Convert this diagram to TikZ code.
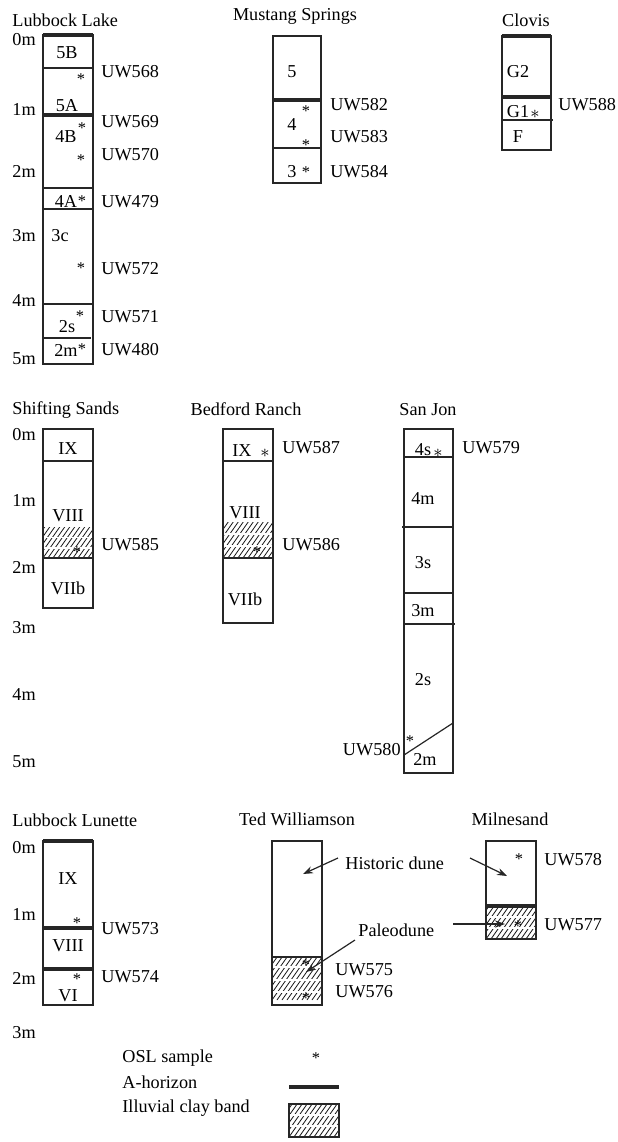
\documentclass[tikz,border=0pt]{standalone}
\usepackage{fontspec}
\setmainfont{Liberation Serif}
\usetikzlibrary{arrows.meta}
\newcommand{\hatchband}[4]{%
  \begin{scope}
    \clip (#1,#2) rectangle (#3,#4);
    \foreach \k in {0,...,24} \draw[hatchl] (#1-45+5*\k,#4) -- ++(42,-60);
  \end{scope}}
\begin{document}
\begin{tikzpicture}[x=0.5pt,y=-0.5pt,
  every node/.style={font=\fontsize{9.1pt}{11pt}\selectfont, inner sep=0pt},
  lbl/.style={anchor=center},
  dep/.style={anchor=west},
  uw/.style={anchor=west},
  ttl/.style={anchor=center},
  ast/.style={anchor=center, yshift=-1.1pt, font=\fontsize{8.2pt}{10pt}\selectfont},
  colbox/.style={draw=black!85, line width=0.6pt},
  lyr/.style={draw=black!85, line width=0.6pt},
  ahor/.style={draw=black!85, line width=1.7pt},
  hatchl/.style={draw=black!90, line width=0.4pt},
  gapl/.style={draw=white, line width=0.9pt},
  arr/.style={-{Stealth[length=5pt,width=3.6pt]}, line width=0.6pt, draw=black!85}]
\useasboundingbox (0,0) rectangle (617,1142);

% ---------------- Lubbock Lake ----------------
\node[dep] (tLL) at (12,20) {Lubbock Lake};
\node[dep] (dLL0) at (12,40) {0m};
\node[dep] (dLL1) at (12,109) {1m};
\node[dep] (dLL2) at (12,171) {2m};
\node[dep] (dLL3) at (12,236) {3m};
\node[dep] (dLL4) at (12,301) {4m};
\node[dep] (dLL5) at (12,359) {5m};
\draw[colbox] (43,35) rectangle (93,364);
\draw[ahor] (43,35) -- (93,35);
\draw[lyr] (43,68) -- (93,68);
\draw[ahor] (43,115) -- (93,115);
\draw[lyr] (43,188) -- (93,188);
\draw[lyr] (43,209) -- (93,209);
\draw[lyr] (43,304) -- (93,304);
\draw[lyr] (43,338) -- (91,338);
\node[lbl] (l5B) at (67,53) {5B};
\node[lbl] (l5A) at (67,106) {5A};
\node[lbl] (l4B) at (66,137) {4B};
\node[lbl] (l4A) at (66,201) {4A};
\node[lbl] (l3c) at (60,236) {3c};
\node[lbl] (l2s) at (67,327) {2s};
\node[lbl] (l2m) at (66,350) {2m};
\node[ast] (aLL1) at (81,77) {*};
\node[ast] (aLL2) at (82,126) {*};
\node[ast] (aLL3) at (81,158) {*};
\node[ast] (aLL4) at (82,199) {*};
\node[ast] (aLL5) at (81,266) {*};
\node[ast] (aLL6) at (80,314) {*};
\node[ast] (aLL7) at (82,347) {*};
\node[uw] (u568) at (101,72) {UW568};
\node[uw] (u569) at (101,122) {UW569};
\node[uw] (u570) at (101,155) {UW570};
\node[uw] (u479) at (101,202) {UW479};
\node[uw] (u572) at (101,269) {UW572};
\node[uw] (u571) at (101,317) {UW571};
\node[uw] (u480) at (101,350) {UW480};

% ---------------- Mustang Springs ----------------
\node[ttl] (tMS) at (295,16) {Mustang Springs};
\draw[colbox] (273,36) rectangle (321,183);
\draw[ahor] (273,100) -- (321,100);
\draw[lyr] (273,148) -- (321,148);
\node[lbl] (m5) at (292,72) {5};
\node[lbl] (m4) at (292,125) {4};
\node[lbl] (m3) at (292,172) {3};
\node[ast] (aMS1) at (306,109) {*};
\node[ast] (aMS2) at (306,143) {*};
\node[ast] (aMS3) at (306,170) {*};
\node[uw] (u582) at (330,105) {UW582};
\node[uw] (u583) at (330,137) {UW583};
\node[uw] (u584) at (330,172) {UW584};

% ---------------- Clovis ----------------
\node[ttl] (tCl) at (526,20) {Clovis};
\draw[colbox] (502,36) rectangle (551,150);
\draw[ahor] (502,36) -- (551,36);
\draw[ahor] (502,97) -- (551,97);
\draw[lyr] (502,120) -- (553,120);
\node[lbl] (cG2) at (518,72) {G2};
\node[lbl] (cG1) at (518,112) {G1};
\node[anchor=center] (aCl) at (535,114) {$\ast$};
\node[lbl] (cF) at (518,137) {F};
\node[uw] (u588) at (558,105) {UW588};

% ---------------- Shifting Sands ----------------
\node[dep] (tSS) at (12,410) {Shifting Sands};
\node[dep] (dSS0) at (12,435) {0m};
\node[dep] (dSS1) at (12,500) {1m};
\node[dep] (dSS2) at (12,567) {2m};
\node[dep] (dSS3) at (12,628) {3m};
\node[dep] (dSS4) at (12,694) {4m};
\node[dep] (dSS5) at (12,762) {5m};
\hatchband{43}{527}{93}{558}
\draw[gapl] (43,537.5) -- (93,537.5);
\draw[gapl] (43,548) -- (93,548);
\draw[colbox] (43,429) rectangle (93,608);
\draw[lyr] (43,461) -- (93,461);
\draw[lyr] (43,558) -- (93,558);
\node[lbl] (sIX) at (68,449) {IX};
\node[lbl] (sVIII) at (68,516) {VIII};
\node[lbl] (sVIIb) at (68,588) {VIIb};
\node[ast] (aSS) at (77,550) {*};
\node[uw] (u585) at (101,545) {UW585};

% ---------------- Bedford Ranch ----------------
\node[ttl] (tBR) at (246,409) {Bedford Ranch};
\hatchband{223}{522}{273}{558}
\draw[gapl] (223,534) -- (273,534);
\draw[gapl] (223,546) -- (273,546);
\draw[colbox] (223,429) rectangle (273,623);
\draw[lyr] (223,461) -- (274,461);
\draw[lyr] (223,558) -- (273,558);
\node[lbl] (bIX) at (242,451) {IX};
\node[anchor=center] (aBR1) at (265,453) {$\ast$};
\node[lbl] (bVIII) at (245,513) {VIII};
\node[lbl] (bVIIb) at (245,599) {VIIb};
\node[ast] (aBR2) at (257,550) {*};
\node[uw] (u587) at (282,448) {UW587};
\node[uw] (u586) at (282,545) {UW586};

% ---------------- San Jon ----------------
\node[ttl] (tSJ) at (428,410) {San Jon};
\draw[colbox] (404,429) rectangle (453,773);
\draw[lyr] (404,457) -- (453,457);
\draw[lyr] (402,527) -- (453,527);
\draw[lyr] (404,593) -- (453,593);
\draw[lyr] (404,624) -- (455,624);
\draw[lyr] (404,755) -- (453,723);
\node[lbl] (j4s) at (423,450) {4s};
\node[anchor=center] (aSJ1) at (438,453) {$\ast$};
\node[lbl] (j4m) at (423,499) {4m};
\node[lbl] (j3s) at (423,563) {3s};
\node[lbl] (j3m) at (423,611) {3m};
\node[lbl] (j2s) at (423,680) {2s};
\node[lbl] (j2m) at (425,759) {2m};
\node[ast] (aSJ2) at (410,739) {*};
\node[uw] (u579) at (462,448) {UW579};
\node[anchor=east] (u580) at (401,750) {UW580};

% ---------------- Lubbock Lunette ----------------
\node[dep] (tLu) at (12,820) {Lubbock Lunette};
\node[dep] (dLu0) at (12,848) {0m};
\node[dep] (dLu1) at (12,914) {1m};
\node[dep] (dLu2) at (12,978) {2m};
\node[dep] (dLu3) at (12,1033) {3m};
\draw[colbox] (43,841) rectangle (93,1005);
\draw[ahor] (43,841) -- (93,841);
\draw[ahor] (43,928) -- (93,928);
\draw[ahor] (43,969) -- (93,969);
\node[lbl] (uIX) at (68,879) {IX};
\node[lbl] (uVIII) at (68,946) {VIII};
\node[lbl] (uVI) at (68,996) {VI};
\node[ast] (aLu1) at (77,921) {*};
\node[ast] (aLu2) at (77,977) {*};
\node[uw] (u573) at (101,929) {UW573};
\node[uw] (u574) at (101,977) {UW574};

% ---------------- Ted Williamson ----------------
\node[ttl] (tTW) at (297,819) {Ted Williamson};
\hatchband{272}{957}{322}{1000}
\draw[gapl] (272,967) -- (322,967);
\draw[gapl] (272,980) -- (322,980);
\draw[gapl] (272,992) -- (322,992);
\draw[colbox] (272,841) rectangle (322,1005);
\draw[lyr] (272,957) -- (322,957);
\node[ast] (aTW1) at (306,963) {*};
\node[ast] (aTW2) at (306,996) {*};
\node[uw] (u575) at (335,970) {UW575};
\node[uw] (u576) at (335,992) {UW576};

% ---------------- Milnesand ----------------
\node[ttl] (tMi) at (510,819) {Milnesand};
\hatchband{486}{906}{536}{939}
\draw[gapl] (486,917) -- (536,917);
\draw[gapl] (486,928) -- (536,928);
\draw[colbox] (486,841) rectangle (536,939);
\draw[ahor] (486,906) -- (536,906);
\node[ast] (aMi1) at (519,857) {*};
\node[ast] (aMi2) at (518,924) {*};
\node[uw] (u578) at (544,860) {UW578};
\node[uw] (u577) at (544,925) {UW577};

% ---------------- dune labels and arrows ----------------
\node[dep] (hd) at (345,863) {Historic dune};
\node[dep] (pd) at (358,930) {Paleodune};
\coordinate (hdL) at (338,858);
\coordinate (hdTW) at (303,874);
\coordinate (hdR) at (470,858);
\coordinate (hdMi) at (507,876);
\coordinate (pdL) at (355,940);
\coordinate (pdTW) at (306,972);
\coordinate (pdR) at (453,924);
\coordinate (pdMi) at (505,924);
\draw[arr] (hdL) -- (hdTW);
\draw[arr] (hdR) -- (hdMi);
\draw[arr] (pdL) -- (pdTW);
\draw[arr] (pdR) -- (pdMi);

% ---------------- legend ----------------
\node[dep] (lgO) at (122,1058) {OSL sample};
\node[dep] (lgA) at (122,1082) {A-horizon};
\node[dep] (lgI) at (122,1108) {Illuvial clay band};
\node[ast] (lgAst) at (316,1056) {*};
\draw[ahor] (289,1087) -- (339,1087);
\hatchband{289}{1104}{339}{1137}
\draw[gapl] (289,1115) -- (339,1115);
\draw[gapl] (289,1126) -- (339,1126);
\draw[colbox] (289,1104) rectangle (339,1137);
\end{tikzpicture}
\end{document}
